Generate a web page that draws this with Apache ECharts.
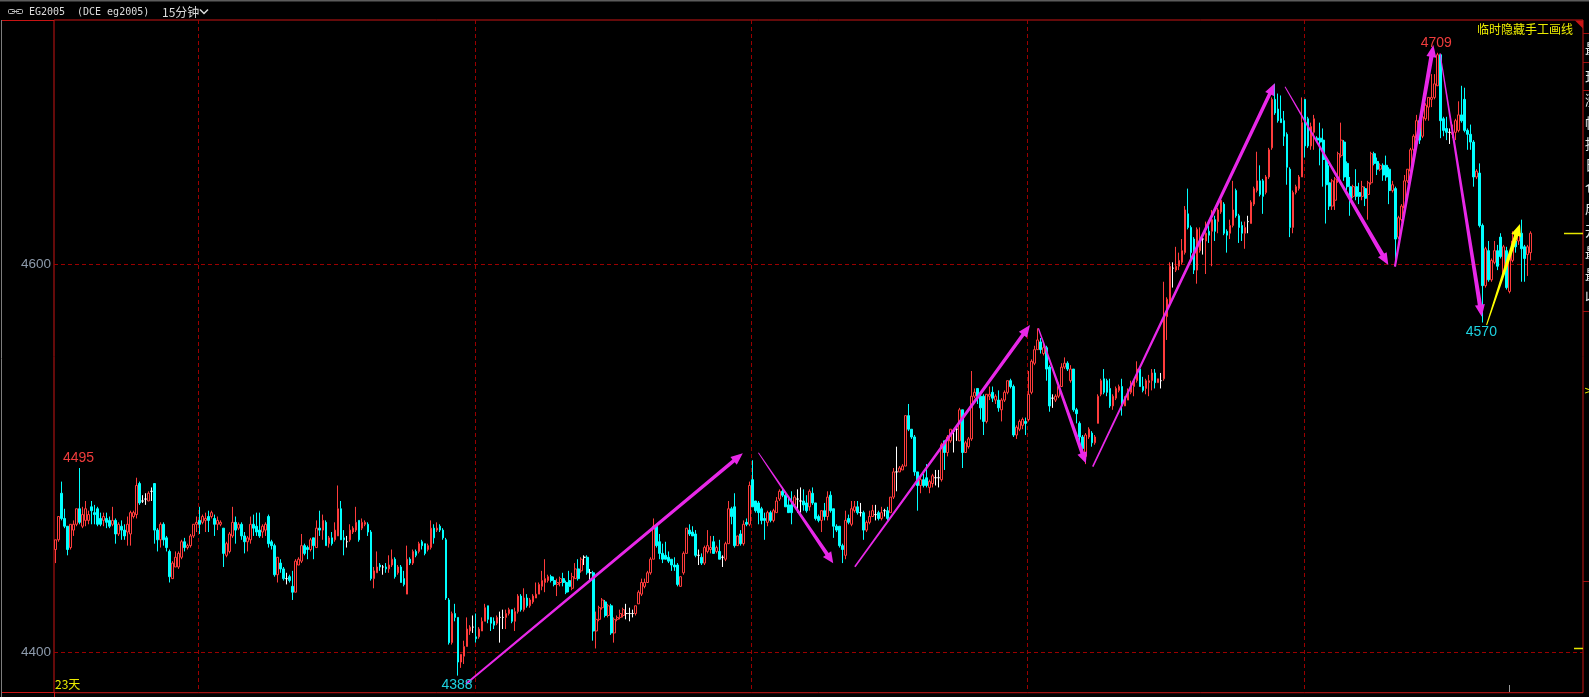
<!DOCTYPE html>
<html>
<head>
<meta charset="utf-8">
<style>
html,body{margin:0;padding:0;background:#000;overflow:hidden;}
#c{width:1589px;height:697px;}
</style>
<script src="https://cdn.jsdelivr.net/npm/echarts@6/dist/echarts.min.js"></script>
</head>
<body>
<div id="c"></div>
<script>
// ---------------- data ----------------
const slotCount = 509; // bar slots on the time axis (last ones empty)
const categories = Array.from({length: slotCount}, (_, i) => String(i));

// [open, close, low, high]
const candles = [
[4453,4458,4446,4458],[4458,4470,4457,4470],[4482,4469,4468,4488],[4469,4465,4464,4474],[4465,4453,4450,4465],
[4454,4466,4453,4466],[4463,4466,4460,4468],[4466,4474,4465,4474],[4474,4467,4466,4495],[4465,4471,4464,4475],
[4468,4474,4465,4478],[4468,4471,4466,4473],[4475,4473,4466,4478],[4472,4471,4466,4476],[4474,4466,4465,4475],
[4469,4466,4465,4472],[4468,4470,4465,4472],[4469,4467,4464,4472],[4468,4465,4464,4470],[4466,4468,4465,4475],
[4468,4461,4456,4469],[4461,4466,4460,4467],[4465,4463,4458,4468],[4463,4460,4458,4466],[4462,4466,4455,4470],
[4461,4472,4455,4473],[4470,4472,4469,4473],[4471,4486,4469,4490],[4487,4477,4476,4488],[4478,4478,4477,4481],
[4479,4479,4476,4482],[4478,4482,4478,4483],[4483,4483,4478,4485],[4487,4463,4456,4487],[4463,4458,4452,4464],
[4458,4466,4454,4467],[4466,4458,4455,4467],[4459,4454,4452,4460],[4452,4439,4436,4453],[4438,4446,4438,4447],
[4444,4449,4444,4452],[4444,4451,4443,4452],[4449,4457,4448,4458],[4457,4454,4452,4459],[4454,4455,4453,4456],
[4455,4460,4454,4461],[4460,4466,4459,4466],[4466,4467,4462,4470],[4468,4466,4461,4475],[4467,4470,4466,4471],
[4468,4469,4462,4472],[4470,4468,4462,4473],[4470,4472,4469,4473],[4469,4466,4460,4471],[4466,4468,4463,4470],
[4466,4467,4465,4468],[4464,4451,4444,4464],[4450,4456,4449,4457],[4452,4461,4451,4462],[4460,4467,4459,4475],
[4467,4463,4456,4470],[4464,4466,4463,4467],[4466,4460,4458,4467],[4460,4457,4451,4462],[4457,4459,4452,4460],
[4458,4466,4456,4470],[4466,4464,4460,4471],[4465,4462,4460,4472],[4463,4460,4459,4472],[4462,4465,4459,4466],
[4463,4466,4460,4467],[4470,4456,4454,4471],[4457,4455,4453,4458],[4455,4440,4439,4456],[4440,4449,4436,4449],
[4446,4443,4441,4448],[4443,4438,4437,4444],[4438,4438,4435,4441],[4439,4437,4436,4440],[4434,4431,4427,4442],
[4431,4447,4431,4448],[4445,4448,4445,4449],[4447,4455,4446,4461],[4455,4451,4450,4456],[4454,4453,4448,4455],
[4453,4458,4452,4459],[4459,4455,4448,4459],[4454,4464,4454,4468],[4464,4463,4460,4473],[4463,4468,4458,4471],
[4467,4455,4455,4468],[4456,4459,4454,4460],[4459,4456,4455,4462],[4458,4463,4457,4467],[4460,4474,4460,4486],
[4474,4458,4458,4478],[4459,4458,4450,4463],[4457,4457,4454,4460],[4458,4463,4457,4466],[4462,4464,4461,4465],
[4463,4467,4462,4475],[4468,4458,4457,4468],[4464,4467,4463,4469],[4466,4467,4465,4468],[4466,4462,4460,4467],
[4462,4438,4437,4463],[4438,4442,4433,4444],[4441,4444,4441,4452],[4445,4444,4442,4446],[4444,4444,4440,4445],
[4444,4443,4441,4446],[4443,4445,4441,4450],[4445,4448,4444,4453],[4448,4439,4438,4449],[4441,4444,4440,4445],
[4444,4436,4436,4445],[4438,4435,4434,4442],[4430,4448,4430,4455],[4448,4446,4445,4449],[4446,4452,4445,4453],
[4452,4450,4449,4453],[4452,4456,4451,4457],[4457,4455,4453,4458],[4456,4451,4450,4456],[4453,4455,4452,4456],
[4454,4464,4453,4468],[4464,4459,4456,4466],[4463,4464,4462,4467],[4465,4463,4462,4466],[4463,4459,4458,4464],
[4458,4428,4427,4459],[4427,4405,4404,4428],[4405,4420,4404,4421],[4420,4418,4416,4425],[4418,4395,4388,4418],
[4395,4399,4392,4399],[4398,4403,4394,4406],[4403,4412,4403,4418],[4411,4413,4409,4414],[4413,4413,4410,4419],
[4408,4407,4405,4420],[4408,4412,4407,4413],[4411,4416,4411,4418],[4416,4423,4416,4425],[4424,4417,4415,4424],
[4418,4415,4411,4418],[4416,4414,4412,4418],[4415,4418,4414,4419],[4418,4418,4405,4421],[4418,4418,4412,4422],
[4418,4420,4412,4422],[4420,4422,4419,4423],[4422,4416,4415,4422],[4416,4421,4411,4423],[4421,4429,4420,4430],
[4429,4422,4421,4430],[4422,4428,4421,4433],[4428,4424,4423,4430],[4424,4427,4423,4428],[4426,4429,4425,4430],
[4428,4430,4428,4436],[4430,4435,4430,4436],[4434,4437,4432,4442],[4436,4438,4431,4448],[4437,4439,4436,4440],
[4439,4437,4436,4440],[4437,4435,4434,4439],[4435,4436,4429,4438],[4436,4438,4434,4439],[4438,4436,4434,4441],
[4436,4431,4430,4437],[4437,4434,4431,4442],[4433,4439,4432,4441],[4438,4443,4438,4446],[4443,4438,4437,4448],
[4442,4448,4441,4449],[4449,4449,4445,4450],[4449,4441,4440,4450],[4441,4441,4437,4443],[4441,4411,4406,4442],
[4411,4417,4402,4421],[4417,4423,4416,4424],[4423,4427,4422,4428],[4426,4419,4418,4427],[4419,4424,4418,4425],
[4424,4410,4409,4425],[4410,4417,4405,4418],[4417,4418,4416,4419],[4418,4420,4417,4422],[4419,4422,4418,4423],
[4420,4420,4417,4425],[4420,4420,4416,4423],[4420,4420,4418,4422],[4420,4424,4419,4424],[4425,4431,4425,4432],
[4430,4436,4429,4438],[4434,4436,4433,4438],[4436,4441,4436,4442],[4441,4448,4440,4449],[4448,4465,4448,4469],
[4465,4455,4454,4466],[4457,4451,4448,4461],[4451,4448,4446,4456],[4450,4448,4448,4457],[4449,4447,4446,4452],
[4448,4445,4442,4448],[4445,4444,4442,4449],[4445,4435,4434,4446],[4434,4439,4434,4439],[4441,4451,4440,4452],
[4451,4464,4451,4464],[4463,4461,4460,4466],[4462,4460,4460,4465],[4461,4450,4449,4463],[4450,4450,4445,4453],
[4449,4446,4445,4451],[4446,4454,4445,4455],[4452,4455,4451,4463],[4453,4454,4451,4460],[4457,4451,4451,4460],
[4452,4454,4451,4455],[4452,4448,4448,4458],[4449,4449,4444,4450],[4448,4456,4447,4457],[4456,4474,4456,4478],
[4474,4470,4466,4475],[4475,4455,4454,4482],[4455,4460,4455,4460],[4461,4456,4455,4463],[4456,4466,4455,4468],
[4467,4466,4465,4469],[4466,4486,4465,4488],[4489,4475,4475,4499],[4478,4473,4472,4478],[4477,4472,4466,4478],
[4474,4468,4466,4475],[4469,4468,4458,4472],[4467,4472,4465,4473],[4472,4468,4467,4473],[4468,4473,4467,4474],
[4472,4478,4472,4480],[4479,4483,4478,4484],[4483,4481,4480,4485],[4481,4475,4475,4482],[4476,4472,4472,4480],
[4476,4472,4466,4483],[4476,4480,4475,4481],[4479,4479,4472,4484],[4478,4478,4472,4485],[4478,4476,4473,4484],
[4477,4473,4472,4481],[4475,4483,4473,4484],[4482,4477,4476,4485],[4477,4469,4468,4477],[4470,4468,4467,4471],
[4468,4473,4462,4473],[4473,4470,4468,4477],[4470,4480,4468,4483],[4481,4473,4472,4483],[4474,4465,4459,4474],
[4465,4463,4462,4466],[4465,4455,4454,4465],[4455,4453,4446,4456],[4450,4468,4448,4473],[4469,4467,4466,4471],
[4466,4474,4465,4478],[4473,4475,4472,4478],[4475,4472,4471,4478],[4472,4472,4470,4477],[4472,4463,4458,4473],
[4463,4467,4462,4468],[4467,4470,4466,4473],[4470,4473,4470,4476],[4471,4471,4468,4476],[4472,4469,4468,4473],
[4469,4472,4468,4475],[4473,4473,4470,4474],[4473,4469,4468,4475],[4472,4480,4472,4480],[4480,4493,4479,4495],
[4493,4493,4483,4506],[4493,4495,4493,4496],[4494,4496,4494,4497],[4496,4522,4496,4522],[4522,4515,4514,4528],
[4515,4511,4510,4515],[4511,4493,4491,4512],[4493,4486,4473,4493],[4486,4489,4482,4491],[4489,4486,4485,4492],
[4490,4486,4485,4497],[4485,4488,4482,4489],[4487,4491,4485,4492],[4490,4490,4486,4494],[4490,4490,4485,4494],
[4489,4507,4488,4508],[4509,4503,4494,4509],[4503,4511,4501,4512],[4509,4515,4508,4515],[4514,4514,4503,4515],
[4515,4515,4509,4516],[4509,4525,4509,4526],[4525,4503,4495,4525],[4503,4508,4503,4509],[4506,4510,4505,4511],
[4510,4532,4509,4545],[4532,4534,4531,4536],[4536,4532,4528,4536],[4532,4526,4520,4533],[4532,4519,4512,4533],
[4519,4533,4518,4533],[4532,4533,4530,4537],[4534,4531,4529,4537],[4530,4532,4528,4533],[4530,4526,4524,4535],
[4525,4530,4519,4531],[4530,4534,4529,4535],[4534,4540,4533,4540],[4540,4537,4536,4541],[4537,4512,4511,4538],
[4512,4516,4510,4517],[4515,4519,4514,4520],[4517,4520,4515,4521],[4519,4518,4512,4521],[4520,4533,4519,4545],
[4534,4550,4533,4551],[4549,4556,4548,4558],[4556,4561,4556,4567],[4560,4556,4554,4562],[4554,4557,4553,4560],
[4557,4546,4540,4558],[4547,4527,4524,4548],[4531,4531,4526,4533],[4530,4532,4529,4533],[4532,4537,4531,4539],
[4537,4547,4537,4549],[4547,4549,4546,4552],[4549,4546,4545,4550],[4540,4546,4539,4548],[4546,4525,4524,4546],
[4525,4523,4518,4526],[4518,4511,4506,4519],[4511,4505,4501,4512],[4501,4512,4497,4513],[4511,4515,4510,4516],
[4513,4508,4506,4514],[4508,4511,4507,4512],[4518,4532,4518,4533],[4533,4540,4532,4541],[4541,4534,4533,4546],
[4540,4534,4532,4541],[4536,4527,4526,4541],[4527,4532,4525,4533],[4531,4536,4530,4537],[4535,4537,4534,4538],
[4537,4527,4522,4541],[4527,4531,4527,4532],[4530,4535,4530,4536],[4534,4538,4533,4540],[4537,4540,4532,4540],
[4540,4546,4539,4550],[4546,4537,4537,4547],[4537,4535,4534,4542],[4536,4540,4533,4541],[4539,4540,4532,4543],
[4540,4544,4535,4546],[4544,4539,4536,4546],[4539,4541,4539,4541],[4540,4540,4536,4544],[4541,4573,4540,4591],
[4573,4582,4561,4583],[4580,4599,4579,4601],[4598,4598,4588,4601],[4597,4599,4596,4609],[4599,4602,4597,4606],
[4601,4607,4600,4613],[4606,4628,4605,4630],[4626,4619,4618,4639],[4619,4606,4602,4620],[4613,4597,4595,4614],
[4597,4618,4590,4619],[4607,4613,4606,4619],[4613,4613,4605,4615],[4612,4616,4595,4622],[4617,4615,4611,4620],
[4617,4623,4599,4628],[4623,4617,4612,4625],[4622,4628,4616,4629],[4627,4633,4626,4635],[4631,4616,4615,4632],
[4617,4615,4606,4618],[4616,4620,4613,4623],[4620,4628,4619,4643],[4638,4625,4624,4639],[4625,4619,4611,4626],
[4620,4616,4612,4622],[4616,4619,4608,4622],[4622,4622,4616,4625],[4621,4632,4621,4633],[4631,4639,4630,4640],
[4638,4643,4637,4658],[4643,4636,4635,4651],[4643,4635,4626,4644],[4637,4645,4636,4646],[4645,4659,4644,4660],
[4660,4685,4659,4686],[4685,4678,4677,4693],[4680,4674,4673,4688],[4675,4673,4673,4687],[4674,4666,4661,4679],
[4667,4650,4641,4668],[4649,4619,4614,4650],[4619,4637,4616,4638],[4637,4640,4636,4641],[4639,4645,4638,4646],
[4645,4673,4645,4686],[4685,4661,4655,4685],[4675,4661,4660,4676],[4661,4671,4659,4673],[4668,4675,4659,4677],
[4665,4664,4664,4666],[4665,4663,4651,4673],[4664,4654,4640,4670],[4654,4641,4621,4655],[4642,4630,4628,4651],
[4630,4643,4628,4644],[4633,4644,4628,4645],[4643,4657,4642,4658],[4656,4664,4655,4673],[4663,4645,4643,4664],
[4652,4640,4638,4653],[4640,4633,4625,4645],[4635,4640,4634,4641],[4640,4635,4633,4649],[4637,4635,4631,4642],
[4635,4640,4633,4643],[4639,4634,4630,4640],[4636,4642,4623,4643],[4642,4657,4641,4658],[4657,4652,4651,4658],
[4653,4649,4646,4655],[4649,4651,4648,4652],[4651,4646,4643,4652],[4651,4645,4643,4656],[4649,4638,4631,4650],
[4638,4641,4637,4643],[4639,4613,4599,4640],[4614,4624,4613,4625],[4623,4630,4622,4631],[4629,4643,4628,4646],
[4643,4649,4642,4649],[4648,4659,4647,4660],[4659,4666,4658,4667],[4665,4674,4664,4677],[4674,4664,4662,4674],
[4666,4676,4665,4678],[4675,4682,4674,4683],[4681,4686,4674,4686],[4685,4686,4681,4698],[4686,4693,4685,4698],
[4692,4708,4692,4709],[4708,4674,4665,4708],[4675,4669,4666,4676],[4670,4668,4664,4676],[4668,4668,4662,4670],
[4667,4668,4665,4672],[4668,4674,4664,4675],[4669,4677,4668,4684],[4677,4674,4673,4692],[4685,4669,4668,4691],
[4669,4667,4659,4670],[4667,4663,4659,4672],[4663,4645,4640,4664],[4645,4648,4644,4649],[4647,4620,4619,4652],
[4620,4589,4570,4621],[4589,4608,4588,4609],[4607,4592,4591,4612],[4592,4602,4591,4603],[4601,4607,4600,4612],
[4607,4599,4597,4610],[4614,4604,4603,4616],[4595,4609,4594,4610],[4607,4588,4587,4609],[4586,4604,4585,4605],
[4602,4612,4601,4617],[4612,4609,4606,4617],[4612,4616,4610,4618],[4616,4608,4591,4623],[4609,4603,4591,4610],
[4605,4609,4594,4610],[4606,4616,4602,4617]
];

const yTicks = [4400, 4600];
const periodStarts = [48, 140, 232, 324, 416];       // bar index where a new 4-day block starts
const extremes = [[8, 4495, 1], [134, 4388, -1], [460, 4709, 1], [475, 4570, -1]]; // [bar, price, 1=high/-1=low]
// hand-drawn arrows: [fromBar, fromPrice, toBar, toPrice]
const arrows = [
  [136.6, 4383.7, 228.8, 4502.6],
  [234.0, 4502.9, 258.9, 4445.9],
  [266.1, 4444.1, 324.4, 4568.7],
  [327.2, 4567.0, 343.0, 4497.4],
  [345.3, 4495.7, 405.9, 4693.3],
  [409.3, 4691.5, 443.7, 4599.6],
  [445.9, 4598.8, 458.7, 4713.0],
  [460.9, 4708.8, 474.8, 4573.0],
  [476.4, 4568.7, 487.5, 4620.8]
];
const lastPrice = 4616;
const lowMark = 4402;

// ---------------- styles ----------------
const MAG = '#e828e8', YEL = '#ffff00';
const arrowStyles = [
  {w1:1.8, w2:3.6, head:12, headW:10, color:MAG},
  {w1:0.9, w2:3.8, head:11, headW:10, color:MAG},
  {w1:1.6, w2:3.6, head:12, headW:10, color:MAG},
  {w1:1.3, w2:3.8, head:11, headW:10, color:MAG},
  {w1:1.6, w2:3.6, head:12, headW:10, color:MAG},
  {w1:1.0, w2:4.2, head:12, headW:10, color:MAG},
  {w1:2.2, w2:4.2, head:12, headW:10, color:MAG},
  {w1:1.0, w2:4.2, head:12, headW:10, color:MAG},
  {w1:1.0, w2:4.2, head:12, headW:10, color:YEL}
];

const gridLines = periodStarts.map(i => [i - 0.5, yTicks[0], 0])
  .concat(yTicks.map(v => [0, v, 1]))
  .concat([[0, lastPrice, 2], [0, lowMark, 3]]);

const chart = echarts.init(document.getElementById('c'), null, {renderer: 'canvas'});

const option = {
  backgroundColor: '#000000',
  animation: false,
  grid: {left: 54, right: 6, top: 20, bottom: 4.3, show: true, borderColor: '#c81414', borderWidth: 1, backgroundColor: 'transparent'},
  xAxis: [
    {type: 'category', data: categories, boundaryGap: true, show: false},
    {type: 'value', min: -0.5, max: slotCount - 0.5, show: false}
  ],
  yAxis: {
    type: 'value', min: 4379.2, max: 4725.9, position: 'left',
    axisLine: {show: false}, axisTick: {show: false}, splitLine: {show: false},
    axisLabel: {customValues: yTicks, color: '#8d9aab', fontSize: 13.5, fontFamily: 'Liberation Sans', margin: 3,
      formatter: v => String(Math.round(v))}
  },
  series: [
    {
      type: 'custom', xAxisIndex: 1, z: 1, silent: true, clip: false,
      data: gridLines,
      renderItem: function (params, api) {
        const cs = params.coordSys;
        const kind = api.value(2);
        const p = api.coord([api.value(0), api.value(1)]);
        if (kind === 0) {
          const x = Math.round(p[0]) + 0.5;
          return {type: 'line', shape: {x1: x, y1: cs.y, x2: x, y2: cs.y + cs.height},
            style: {stroke: '#9a0000', lineWidth: 1, lineDash: [4, 3]}};
        }
        const y = Math.round(p[1]) + 0.5;
        if (kind === 1) {
          return {type: 'line', shape: {x1: cs.x, y1: y, x2: cs.x + cs.width, y2: y},
            style: {stroke: '#9a0000', lineWidth: 1, lineDash: [4, 3]}};
        }
        const len = kind === 2 ? 19 : 9;
        return {type: 'line', shape: {x1: cs.x + cs.width - len, y1: y, x2: cs.x + cs.width, y2: y},
          style: {stroke: '#e6e600', lineWidth: 1.5}};
      }
    },
    {
      type: 'candlestick', xAxisIndex: 0, z: 2, silent: true,
      data: candles,
      barWidth: 2.2,
      itemStyle: {color: '#000000', color0: '#00ffff', borderColor: '#ff3c3c', borderColor0: '#00ffff',
        borderColorDoji: '#ffffff', borderWidth: 1}
    },
    {
      type: 'custom', xAxisIndex: 1, z: 3, silent: true, clip: false,
      data: arrows,
      renderItem: function (params, api) {
        const st = arrowStyles[params.dataIndex];
        const p1 = api.coord([api.value(0), api.value(1)]);
        const p2 = api.coord([api.value(2), api.value(3)]);
        const dx = p2[0] - p1[0], dy = p2[1] - p1[1];
        const len = Math.hypot(dx, dy);
        const ux = dx / len, uy = dy / len, nx = -uy, ny = ux;
        const bx = p2[0] - ux * st.head, by = p2[1] - uy * st.head;
        const a = st.w1 / 2, b = st.w2 / 2, W = st.headW / 2;
        const pts = [
          [p1[0] + nx * a, p1[1] + ny * a],
          [bx + nx * b, by + ny * b],
          [bx + nx * W, by + ny * W],
          [p2[0], p2[1]],
          [bx - nx * W, by - ny * W],
          [bx - nx * b, by - ny * b],
          [p1[0] - nx * a, p1[1] - ny * a]
        ];
        return {type: 'polygon', shape: {points: pts}, style: {fill: st.color}};
      }
    },
    {
      type: 'custom', xAxisIndex: 1, z: 4, silent: true, clip: false,
      data: extremes,
      renderItem: function (params, api) {
        const dir = api.value(2);
        const p = api.coord([api.value(0), api.value(1)]);
        const high = dir > 0;
        return {
          type: 'text', x: p[0] - 1, y: high ? p[1] - 3 : p[1] + 3,
          style: {text: String(api.value(1)), fill: high ? '#f03c3c' : '#1ed2e0',
            font: '14px "Liberation Sans"', align: 'center', verticalAlign: high ? 'bottom' : 'top'}
        };
      }
    }
  ],
  graphic: [
    {type: 'rect', silent: true, shape: {x: 0, y: 0, width: 1589, height: 1.5}, style: {fill: '#5c5c5c'}},
    {type: 'line', silent: true, shape: {x1: 1.5, y1: 20, x2: 1.5, y2: 697}, style: {stroke: '#7c7c7c', lineWidth: 1}},
    {type: 'line', silent: true, shape: {x1: 2, y1: 20.5, x2: 54, y2: 20.5}, style: {stroke: '#c81414', lineWidth: 1}},
    {type: 'line', silent: true, shape: {x1: 2, y1: 692.5, x2: 54, y2: 692.5}, style: {stroke: '#c81414', lineWidth: 1}},
    {type: 'line', silent: true, shape: {x1: 54.5, y1: 692, x2: 54.5, y2: 697}, style: {stroke: '#c81414', lineWidth: 1}},
    // chain icon
    {type: 'rect', silent: true, shape: {x: 8.5, y: 9.5, width: 6, height: 4, r: 1}, style: {fill: 'none', stroke: '#b8b8b8', lineWidth: 1}},
    {type: 'rect', silent: true, shape: {x: 16.5, y: 9.5, width: 6, height: 4, r: 1}, style: {fill: 'none', stroke: '#b8b8b8', lineWidth: 1}},
    {type: 'line', silent: true, shape: {x1: 12, y1: 11.5, x2: 19, y2: 11.5}, style: {stroke: '#b8b8b8', lineWidth: 1}},
    // title texts
    {type: 'text', silent: true, x: 29, y: 12, style: {text: 'EG2005', fill: '#dcdcdc', font: '10px "DejaVu Sans Mono"', align: 'left', verticalAlign: 'middle'}},
    {type: 'text', silent: true, x: 77, y: 12, style: {text: '(DCE eg2005)', fill: '#dcdcdc', font: '10px "DejaVu Sans Mono"', align: 'left', verticalAlign: 'middle'}},
    {type: 'text', silent: true, x: 162, y: 12, style: {text: '15分钟', fill: '#dcdcdc', font: '12px "Noto Sans CJK SC"', align: 'left', verticalAlign: 'middle'}},
    {type: 'polyline', silent: true, shape: {points: [[200, 9.5], [204, 13.5], [208, 9.5]]}, style: {stroke: '#dcdcdc', lineWidth: 1.5, fill: 'none'}},
    // top-right notes
    {type: 'text', silent: true, x: 1573, y: 29, style: {text: '临时隐藏手工画线', fill: '#ecec00', font: '12px "Noto Sans CJK SC"', align: 'right', verticalAlign: 'middle'}},
    {type: 'polygon', silent: true, shape: {points: [[1575, 20.5], [1583, 20.5], [1583, 28.5]]}, style: {fill: '#c81414'}},
    {type: 'text', silent: true, x: 55, y: 684, style: {text: '23天', fill: '#ecec00', font: '12px "Noto Sans CJK SC"', align: 'left', verticalAlign: 'middle'}},
    // right strip
    {type: 'text', silent: true, x: 1585, y: 49, style: {text: '最', fill: '#e6e6e6', font: '14px "Noto Sans CJK SC"', verticalAlign: 'middle'}},
    {type: 'text', silent: true, x: 1585, y: 77, style: {text: '现', fill: '#e6e6e6', font: '14px "Noto Sans CJK SC"', verticalAlign: 'middle'}},
    {type: 'text', silent: true, x: 1585, y: 100, style: {text: '涨', fill: '#e6e6e6', font: '14px "Noto Sans CJK SC"', verticalAlign: 'middle'}},
    {type: 'text', silent: true, x: 1585, y: 123, style: {text: '幅', fill: '#e6e6e6', font: '14px "Noto Sans CJK SC"', verticalAlign: 'middle'}},
    {type: 'text', silent: true, x: 1585, y: 144, style: {text: '持', fill: '#e6e6e6', font: '14px "Noto Sans CJK SC"', verticalAlign: 'middle'}},
    {type: 'text', silent: true, x: 1585, y: 165, style: {text: '日', fill: '#e6e6e6', font: '14px "Noto Sans CJK SC"', verticalAlign: 'middle'}},
    {type: 'text', silent: true, x: 1585, y: 187, style: {text: '仓', fill: '#e6e6e6', font: '14px "Noto Sans CJK SC"', verticalAlign: 'middle'}},
    {type: 'text', silent: true, x: 1585, y: 208, style: {text: '成', fill: '#e6e6e6', font: '14px "Noto Sans CJK SC"', verticalAlign: 'middle'}},
    {type: 'text', silent: true, x: 1585, y: 231, style: {text: '开', fill: '#e6e6e6', font: '14px "Noto Sans CJK SC"', verticalAlign: 'middle'}},
    {type: 'text', silent: true, x: 1585, y: 253, style: {text: '最', fill: '#e6e6e6', font: '14px "Noto Sans CJK SC"', verticalAlign: 'middle'}},
    {type: 'text', silent: true, x: 1585, y: 275, style: {text: '最', fill: '#e6e6e6', font: '14px "Noto Sans CJK SC"', verticalAlign: 'middle'}},
    {type: 'text', silent: true, x: 1585, y: 297, style: {text: '收', fill: '#e6e6e6', font: '14px "Noto Sans CJK SC"', verticalAlign: 'middle'}},
    {type: 'line', silent: true, shape: {x1: 1583, y1: 33.5, x2: 1589, y2: 33.5}, style: {stroke: '#a01010', lineWidth: 1}},
    {type: 'line', silent: true, shape: {x1: 1583, y1: 62.5, x2: 1589, y2: 62.5}, style: {stroke: '#a01010', lineWidth: 1}},
    {type: 'line', silent: true, shape: {x1: 1583, y1: 90.5, x2: 1589, y2: 90.5}, style: {stroke: '#a01010', lineWidth: 1}},
    {type: 'line', silent: true, shape: {x1: 1583, y1: 311.5, x2: 1589, y2: 311.5}, style: {stroke: '#a01010', lineWidth: 1}},
    {type: 'line', silent: true, shape: {x1: 1583, y1: 581.5, x2: 1589, y2: 581.5}, style: {stroke: '#a01010', lineWidth: 1}},
    {type: 'text', silent: true, x: 1584, y: 391, style: {text: '>', fill: '#ecec00', font: '11px "DejaVu Sans"', verticalAlign: 'middle'}},
    {type: 'line', silent: true, shape: {x1: 1509.5, y1: 685, x2: 1509.5, y2: 692}, style: {stroke: '#9a9a9a', lineWidth: 1}}
  ]
};

chart.setOption(option);
</script>
</body>
</html>
